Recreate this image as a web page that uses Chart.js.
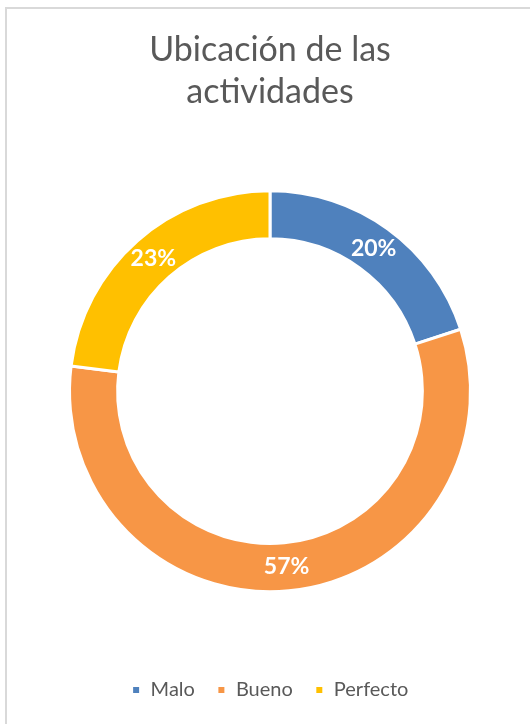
<!DOCTYPE html>
<html>
<head>
<meta charset="utf-8">
<script src="https://cdn.jsdelivr.net/npm/chart.js@4/dist/chart.umd.min.js"></script>
<style>
  html, body { margin: 0; padding: 0; background: #fff; overflow: hidden; }
  #wrap { position: relative; width: 530px; height: 724px; }
  #frame { position: absolute; left: 5px; top: 7px; width: 600px; height: 800px; border: 2px solid #d9d9d9; box-sizing: border-box; }
  #myChart { position: absolute; left: 0; top: 0; }
</style>
</head>
<body>
<div id="wrap">
  <div id="frame"></div>
  <canvas id="myChart" width="530" height="724"></canvas>
</div>
<script>
var titleLines = ['Ubicación de las', 'actividades'];
var categories = ['Malo', 'Bueno', 'Perfecto'];
var percents = [20, 57, 23];
var colors = ['#4f81bd', '#f79646', '#ffc000'];

// labels de porcentaje en medio de cada arco
var pctLabels = {
    id: 'pctLabels',
    afterDatasetsDraw: function (chart) {
        var ctx = chart.ctx;
        var meta = chart.getDatasetMeta(0);
        ctx.save();
        ctx.fillStyle = '#ffffff';
        ctx.font = 'bold 23px Lato, sans-serif';
        ctx.textAlign = 'center';
        ctx.textBaseline = 'middle';
        meta.data.forEach(function (arc, i) {
            var p = arc.tooltipPosition();
            ctx.fillText(percents[i] + '%', p.x, p.y);
        });
        ctx.restore();
    }
};

var ctx = document.getElementById('myChart');
var xx = new Chart(ctx, {
    type: 'doughnut',
    data: {
        labels: categories,
        datasets: [{
            data: percents,
            backgroundColor: colors,
            borderColor: '#ffffff',
            borderWidth: 3,
            hoverOffset: 0
        }]
    },
    options: {
        responsive: false,
        animation: false,
        cutout: '76%',
        layout: {
            padding: { left: 68, right: 58, top: 29, bottom: 14 }
        },
        plugins: {
            title: {
                display: true,
                text: titleLines,
                color: '#595959',
                font: { family: 'Lato, sans-serif', size: 34, weight: 'normal', lineHeight: 1.24 },
                padding: { top: 0, bottom: 11 }
            },
            legend: {
                position: 'bottom',
                labels: {
                    color: '#595959',
                    font: { family: 'Lato, sans-serif', size: 20 },
                    boxWidth: 9,
                    boxHeight: 9,
                    padding: 22
                }
            },
            tooltip: { enabled: false }
        }
    },
    plugins: [pctLabels]
});
</script>
</body>
</html>
